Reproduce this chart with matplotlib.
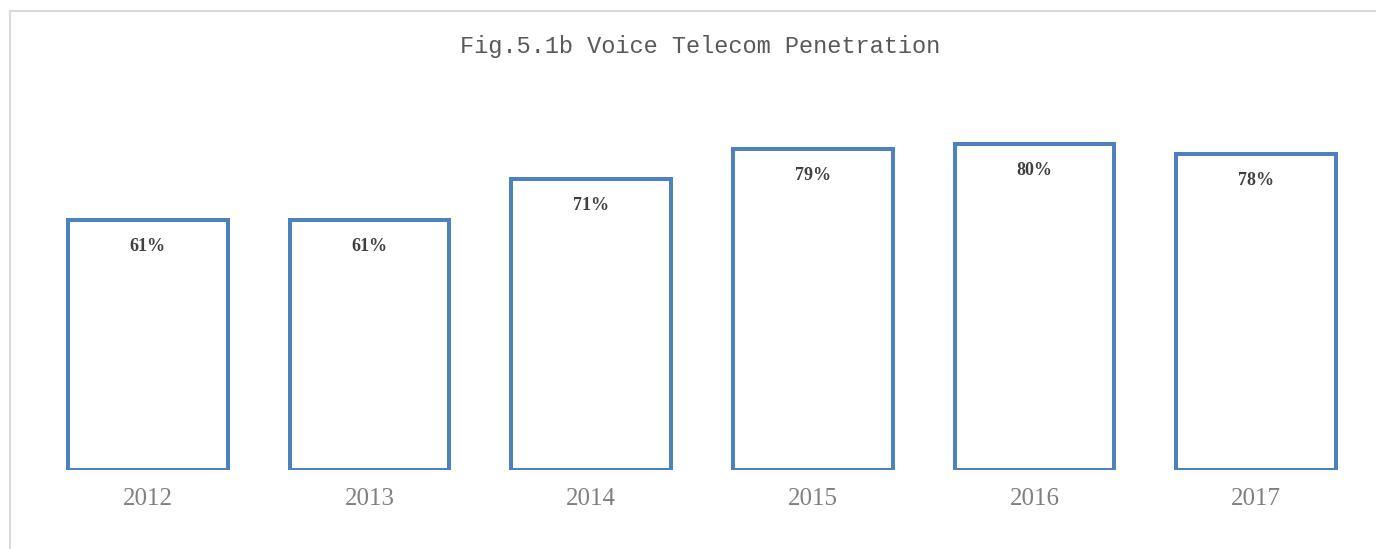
import matplotlib.pyplot as plt
from matplotlib.patches import Rectangle

years = ['2012', '2013', '2014', '2015', '2016', '2017']
penetration = [0.613, 0.613, 0.713, 0.787, 0.799, 0.775]
labels = ['61%', '61%', '71%', '79%', '80%', '78%']

W, H = 1376, 549
fig = plt.figure(figsize=(W / 100, H / 100), dpi=100)
fig.patch.set_facecolor('white')

# light gray frame around the chart area
fig.patches.append(Rectangle((10 / W, -0.05), 1.1, 1 - 11 / H + 0.05,
                             transform=fig.transFigure, fill=False,
                             edgecolor='#d9d9d9', linewidth=1.5))

ax = fig.add_axes([37 / W, 1 - 470 / H, (1367 - 37) / W, 410 / H])
x = range(len(years))
ax.bar(x, penetration, width=0.72, facecolor='white',
       edgecolor='#4F81BD', linewidth=2.9)

for xi, v, lab in zip(x, penetration, labels):
    ax.annotate(lab, (xi, v), xytext=(0, -19), textcoords='offset points',
                ha='center', va='center', fontsize=13, color='#404040',
                family='Liberation Serif', fontweight='bold')

ax.set_xlim(-0.5, len(years) - 0.5)
ax.set_ylim(0, 1.005)
ax.set_xticks(list(x))
ax.set_xticklabels(years, fontsize=18, color='#808080', family='Liberation Serif')
ax.tick_params(axis='x', length=0, pad=13)
ax.set_yticks([])
for s in ax.spines.values():
    s.set_visible(False)

fig.text(0.509, 1 - 46 / H, 'Fig.5.1b Voice Telecom Penetration',
         ha='center', va='center', fontsize=17, color='#595959',
         family='Liberation Mono')

fig.savefig('out.png', dpi=100)
